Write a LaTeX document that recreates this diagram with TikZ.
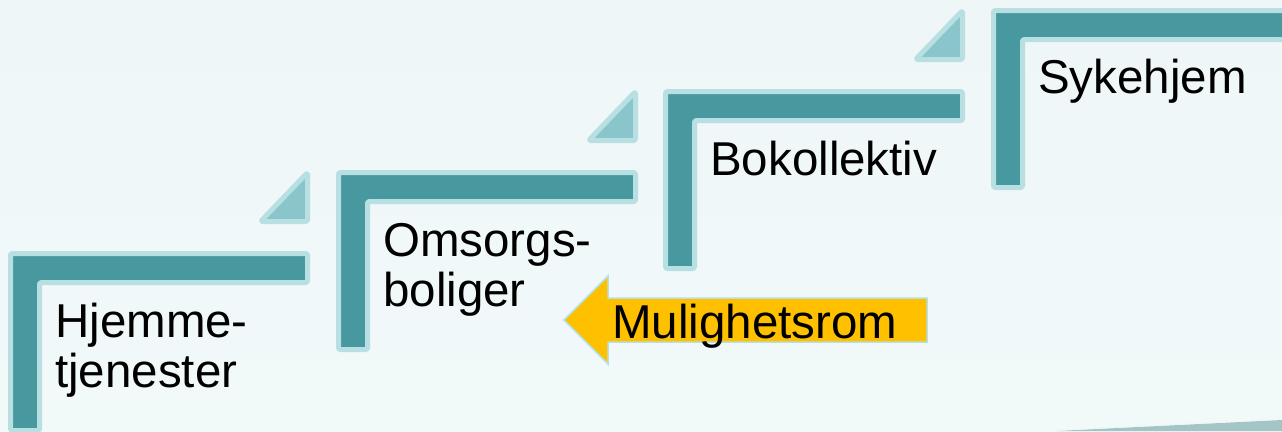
\documentclass[tikz,border=0pt]{standalone}
\usepackage{fontspec}
\setmainfont{Liberation Sans}
\definecolor{bgtop}{HTML}{EEF6F8}
\definecolor{bgbot}{HTML}{F2F9F9}
\definecolor{stepdark}{HTML}{47989F}
\definecolor{steplight}{HTML}{B8DFE2}
\definecolor{trifill}{HTML}{8AC5CB}
\definecolor{arrowfill}{HTML}{FFC000}
\definecolor{wedge}{HTML}{A3C5C5}
\tikzset{
  stepshape/.style={fill=stepdark, draw=steplight, line width=5pt, rounded corners=1.5pt, line join=round},
  trishape/.style={fill=trifill, draw=steplight, line width=5pt, rounded corners=1.5pt, line join=round},
  arrowshape/.style={fill=arrowfill, draw=steplight, line width=1.5pt, line join=miter},
  steptext/.style={anchor=base west, inner sep=0pt, align=left, font=\fontsize{47.5}{50}\selectfont, text=black}
}
\newcommand{\stairstep}[5]{%
  % #1 x, #2 y (outer top-left), #3 name, #4 text, #5 baseline offset of last line
  \draw[stepshape] (#1+2.5,#2+2.5) -- (#1+299.5,#2+2.5) -- (#1+299.5,#2+31.5) -- (#1+31.5,#2+31.5) -- (#1+31.5,#2+179.5) -- (#1+2.5,#2+179.5) -- cycle;
  \draw[trishape] (#1+299.5,#2-78.5) -- (#1+299.5,#2-29.5) -- (#1+252.5,#2-29.5) -- cycle;
  \node[steptext] (#3) at (#1+47,#2+#5) {#4};
}
\begin{document}
\begin{tikzpicture}[x=1pt,y=-1pt]
\useasboundingbox (0,0) rectangle (1282,431);
\shade[top color=bgtop, bottom color=bgbot] (0,0) rectangle (1282,431);
\fill[wedge] (1057,431) -- (1282,420) -- (1282,431) -- cycle;
\draw[white!85!wedge, line width=1pt] (1057,430) -- (1282,419);
\stairstep{8}{251}{hjem}{Hjemme-\\tjenester}{136}
\stairstep{336}{170}{omsorg}{Omsorgs-\\boliger}{136}
\stairstep{663}{89}{bokol}{Bokollektiv}{86}
\stairstep{991}{8}{syke}{Sykehjem}{85}
\draw[arrowshape] (564,320) -- (608,276) -- (608,298) -- (927,298) -- (927,342) -- (608,342) -- (608,364) -- cycle;
\node[steptext] (mulig) at (612,338) {Mulighetsrom};
\end{tikzpicture}
\end{document}
